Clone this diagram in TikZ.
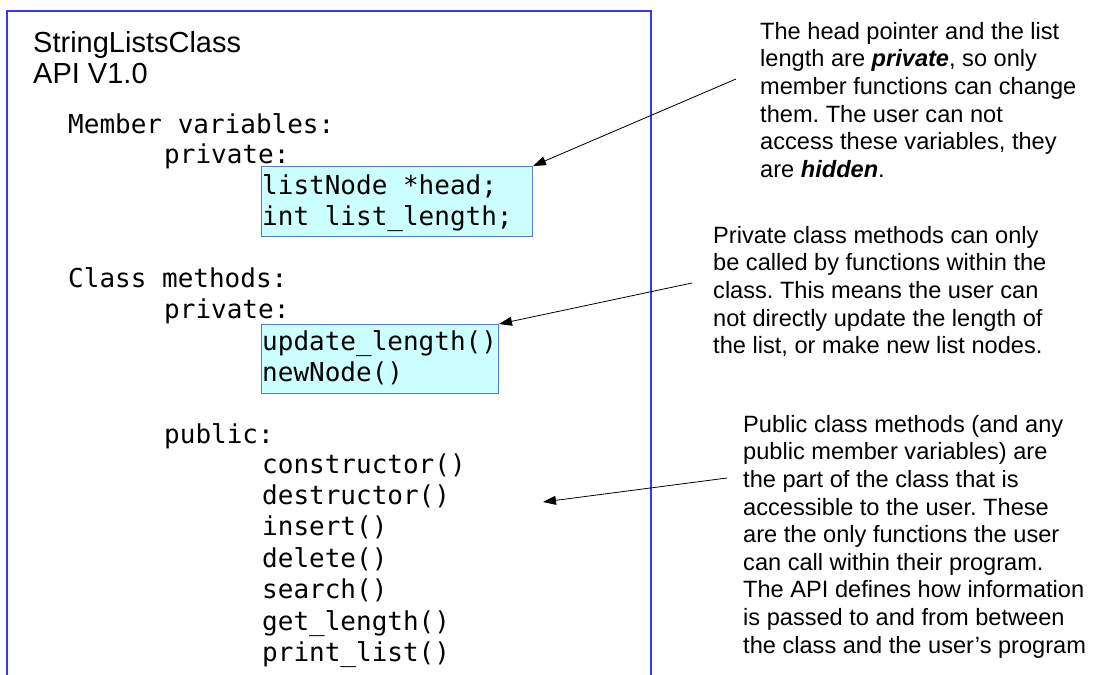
\documentclass[tikz,border=0pt]{standalone}
\usepackage{fontspec}
\setmainfont{Liberation Sans}
\newfontfamily\codefont{DejaVu Sans Mono}
\usetikzlibrary{arrows.meta}
\definecolor{outerblue}{RGB}{55,55,250}
\definecolor{boxedge}{RGB}{85,125,205}
\definecolor{boxfill}{RGB}{204,255,255}
\begin{document}
\frenchspacing
\begin{tikzpicture}[x=1pt,y=-1pt,
  code/.style={anchor=base west, inner sep=0pt, font=\codefont\fontsize{26}{31.4}\selectfont},
  titletext/.style={anchor=base west, inner sep=0pt, font=\fontsize{29}{34}\selectfont},
  note/.style={anchor=north west, inner sep=0pt, align=left, font=\fontsize{23.6}{27.6}\selectfont},
  hl/.style={draw=boxedge, fill=boxfill, line width=1pt, inner sep=0pt, anchor=north west},
  outerbox/.style={draw=outerblue, line width=1.5pt},
  pointer/.style={-{Triangle[length=13pt,width=9pt]}, line width=0.8pt, black}
]
\useasboundingbox (0,0) rectangle (1093,675);
\fill[white] (0,0) rectangle (1093,675);

% outer class frame (open at the bottom)
\draw[outerbox] (7,690) -- (7,11) -- (651,11) -- (651,690);

% title
\node[titletext] (t1) at (33,52.5) {StringListsClass};
\node[titletext] (t2) at (33,83.5) {API V1.0};

% highlighted boxes
\node[hl, minimum width=271pt, minimum height=70pt] (box1) at (261,166) {};
\node[hl, minimum width=237pt, minimum height=69pt] (box2) at (261,324) {};

% code text
\node[code] (mv) at (68,133) {Member variables:};
\node[code] (pv1) at (164,163) {private:};
\node[code] (c1) at (262,194) {listNode *head;};
\node[code] (c2) at (262,225) {int list\_length;};
\node[code] (cm) at (68,287) {Class methods:};
\node[code] (pv2) at (164,318) {private:};
\node[code] (c3) at (262,350) {update\_length()};
\node[code] (c4) at (262,381) {newNode()};
\node[code] (pub) at (164,443) {public:};
\node[code] (m1) at (262,473) {constructor()};
\node[code] (m2) at (262,504.4) {destructor()};
\node[code] (m3) at (262,535.8) {insert()};
\node[code] (m4) at (262,567.2) {delete()};
\node[code] (m5) at (262,598.6) {search()};
\node[code] (m6) at (262,630) {get\_length()};
\node[code] (m7) at (262,661.4) {print\_list()};

% annotations
\node[note] (n1) at (760,22) {The head pointer and the list\\
length are \textbf{\textit{private}}, so only\\
member functions can change\\
them. The user can not\\
access these variables, they\\
are \textbf{\textit{hidden}}.};
\node[note] (n2) at (713,226) {Private class methods can only\\
be called by functions within the\\
class. This means the user can\\
not directly update the length of\\
the list, or make new list nodes.};
\node[note] (n3) at (743,415) {Public class methods (and any\\
public member variables) are\\
the part of the class that is\\
accessible to the user. These\\
are the only functions the user\\
can call within their program.\\
The API defines how information\\
is passed to and from between\\
the class and the user’s program};

% pointers
\coordinate (s1) at (736,79);
\coordinate (s2) at (692,283);
\coordinate (s3) at (727,478);
\coordinate (e3) at (543,502);
\draw[pointer] (s1) -- (box1.north east);
\draw[pointer] (s2) -- (box2.north east);
\draw[pointer] (s3) -- (e3);
\end{tikzpicture}
\end{document}
